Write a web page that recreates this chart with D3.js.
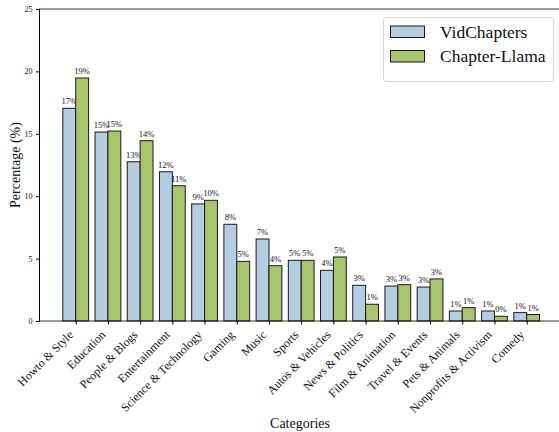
<!DOCTYPE html>
<html>
<head>
<meta charset="utf-8">
<script src="https://cdn.jsdelivr.net/npm/d3@7"></script>
<style>
  html, body { margin: 0; padding: 0; background: #fff; }
  svg { display: block; font-family: "Liberation Serif", "Times New Roman", serif; }
</style>
</head>
<body>
<svg id="chart" width="559" height="432"></svg>
<script>
// Category shares (%) for the two datasets
const categories = [
  "Howto & Style", "Education", "People & Blogs", "Entertainment",
  "Science & Technology", "Gaming", "Music", "Sports", "Autos & Vehicles",
  "News & Politics", "Film & Animation", "Travel & Events", "Pets & Animals",
  "Nonprofits & Activism", "Comedy"
];
const vidChapters = [17.04, 15.14, 12.76, 11.96, 9.38, 7.75, 6.57, 4.86, 4.06, 2.86, 2.80, 2.72, 0.80, 0.80, 0.67];
const chapterLlama = [19.47, 15.22, 14.45, 10.84, 9.67, 4.78, 4.43, 4.86, 5.13, 1.34, 2.91, 3.37, 1.07, 0.38, 0.52];
const seriesNames = ["VidChapters", "Chapter-Llama"];
const seriesColors = ["#b3cde3", "#a9c46c"];
const yTicks = [0, 5, 10, 15, 20, 25];

const svg = d3.select("#chart");

const plotLeft = 39, plotRight = 563.4, plotTop = 9, plotBottom = 321;
const barW = 0.4;
const n = categories.length;
const pad = 0.05 * (n - 1 + 2 * barW);

const x = d3.scaleLinear().domain([-barW - pad, n - 1 + barW + pad]).range([plotLeft, plotRight]);
const y = d3.scaleLinear().domain([0, 25]).range([plotBottom, plotTop]);

// Bars with rounded percentage labels
const series = [vidChapters, chapterLlama];
series.forEach((vals, s) => {
  const g = svg.append("g");
  g.selectAll("rect").data(vals).join("rect")
    .attr("x", (d, i) => x(i - barW + s * barW))
    .attr("width", (d, i) => x(i + barW) - x(i))
    .attr("y", d => y(d))
    .attr("height", d => y(0) - y(d))
    .attr("fill", seriesColors[s])
    .attr("stroke", "#1a1a1a")
    .attr("stroke-width", 1);
  g.selectAll("text").data(vals).join("text")
    .attr("x", (d, i) => x(i - barW / 2 + s * barW))
    .attr("y", d => y(d) - 4)
    .attr("text-anchor", "middle")
    .attr("font-size", 8.5)
    .attr("fill", "#111")
    .text(d => d3.format(".0f")(d) + "%");
});

// Spines
svg.append("line").attr("x1", plotLeft).attr("x2", 559).attr("y1", plotTop).attr("y2", plotTop)
  .attr("stroke", "#000").attr("stroke-width", 0.8);
svg.append("line").attr("x1", plotLeft).attr("x2", 559).attr("y1", plotBottom).attr("y2", plotBottom)
  .attr("stroke", "#000").attr("stroke-width", 0.8);
svg.append("line").attr("x1", plotLeft + 0.5).attr("x2", plotLeft + 0.5).attr("y1", plotTop).attr("y2", plotBottom)
  .attr("stroke", "#000").attr("stroke-width", 1);

// Y axis
const yAxis = d3.axisLeft(y).tickValues(yTicks).tickSize(3.5).tickPadding(3.5);
const ya = svg.append("g").attr("transform", `translate(${plotLeft + 0.5},0)`).call(yAxis);
ya.select(".domain").remove();
ya.selectAll("text").attr("font-size", 8).attr("font-family", "Liberation Serif").attr("fill", "#111");

// X axis
const xAxis = d3.axisBottom(x).tickValues(d3.range(n)).tickSize(3.5).tickFormat(() => "");
const xa = svg.append("g").attr("transform", `translate(0,${plotBottom})`).call(xAxis);
xa.select(".domain").remove();

svg.append("g").selectAll("text").data(categories).join("text")
  .attr("transform", (d, i) => `translate(${x(i) - 1.8},335.5) rotate(-45)`)
  .attr("text-anchor", "end")
  .attr("font-size", 12)
  .attr("fill", "#111")
  .text(d => d);

// Axis titles
svg.append("text")
  .attr("transform", "translate(19.5,165) rotate(-90)")
  .attr("text-anchor", "middle")
  .attr("font-size", 14)
  .attr("fill", "#111")
  .text("Percentage (%)");
svg.append("text")
  .attr("x", 300).attr("y", 428)
  .attr("text-anchor", "middle")
  .attr("font-size", 14)
  .attr("fill", "#111")
  .text("Categories");

// Legend
const lg = svg.append("g");
lg.append("rect").attr("x", 383.5).attr("y", 17.5).attr("width", 170).attr("height", 64)
  .attr("rx", 3).attr("fill", "#fff").attr("fill-opacity", 0.8)
  .attr("stroke", "#d6d6d6").attr("stroke-width", 1);
seriesNames.forEach((name, s) => {
  const yy = 26 + s * 24.5;
  lg.append("rect").attr("x", 390.5).attr("y", yy).attr("width", 34).attr("height", 11.5)
    .attr("fill", seriesColors[s]).attr("stroke", "#1a1a1a").attr("stroke-width", 1);
  lg.append("text").attr("x", 440).attr("y", yy + 11.5).attr("font-size", 17.5)
    .attr("fill", "#111").text(name);
});
</script>
</body>
</html>
